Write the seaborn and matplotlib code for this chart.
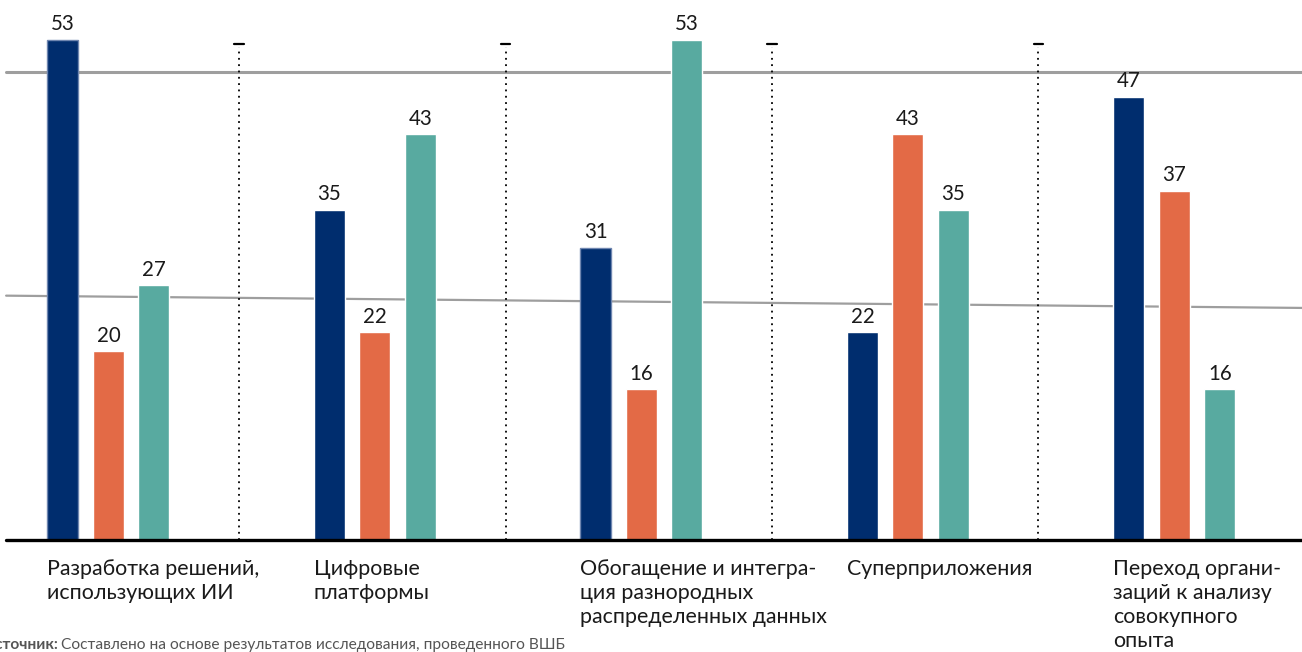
import matplotlib
matplotlib.use("Agg")
import matplotlib.pyplot as plt
import numpy as np
import pandas as pd
import seaborn as sns

# ----- Data -----

categories = [
    "Разработка решений,\nиспользующих ИИ",
    "Цифровые\nплатформы",
    "Обогащение и интегра-\nция разнородных\nраспределенных данных",
    "Суперприложения",
    "Переход органи-\nзаций к анализу\nсовокупного\nопыта",
]
series_names = ["Серия 1", "Серия 2", "Серия 3"]
series_1 = [53, 35, 31, 22, 47]
series_2 = [20, 22, 16, 43, 37]
series_3 = [27, 43, 53, 35, 16]

# decorative grey guide lines (value at left edge, value at right edge)
guide_upper = [49.6, 49.6]
guide_lower = [25.9, 24.6]

source_label = "Источник:"
source_text = "Составлено на основе результатов исследования, проведенного ВШБ"

colours = ["#002D6E", "#E36A46", "#58AAA0"]

# ----- Table -----

df = pd.DataFrame({
    "category": np.repeat(categories, len(series_names)),
    "series": series_names * len(categories),
    "value": np.ravel(np.column_stack([series_1, series_2, series_3])),
})

# ----- Figure -----

sns.set_theme(style="white")
plt.rcParams["font.family"] = ["Lato", "DejaVu Sans"]

fig = plt.figure(figsize=(13.02, 6.52), dpi=100)
ax = fig.add_axes([0, 112 / 652, 1, 540 / 652])

sns.barplot(data=df, x="category", y="value", hue="series", hue_order=series_names,
            order=categories, palette=colours, width=0.512, gap=0.319,
            saturation=1, legend=False, ax=ax, zorder=3)

x_left, x_right = -0.407, 4.479
x_start = -0.384
ax.set_xlim(x_left, x_right)
ax.set_ylim(0, 57.24)
ax.axis("off")

# thin lighter outline seen on two of the dark bars
for bar, val in zip(ax.containers[0], series_1):
    if val in (53, 31):
        bar.set_edgecolor("#6F86B0")
        bar.set_linewidth(1.0)

# -- Value labels --

for cont in ax.containers:
    ax.bar_label(cont, padding=4, fontsize=14.8, color="#1a1a1a")

# -- Guide lines --

ax.plot([x_start, x_right], guide_upper, color="#9e9e9e", lw=2.2, zorder=1)
ax.plot([x_start, x_right], guide_lower, color="#9e9e9e", lw=1.6, zorder=1)

# -- Baseline --

ax.plot([x_start, x_right], [0, 0], color="black", lw=2.4, zorder=4, clip_on=False)

# -- Separators --

for i in range(len(categories) - 1):
    xs = i + 0.49
    ax.plot([xs, xs], [0, 52.3], color="black", lw=1.3, ls=(0, (1, 2.5)), zorder=2)
    ax.plot([xs - 0.017, xs + 0.017], [52.6, 52.6], color="black", lw=1.6, zorder=2)

# -- Category labels --

for i, cat in enumerate(categories):
    ax.text(i - 0.229, -2.0, cat, ha="left", va="top", fontsize=15.4,
            linespacing=1.26, color="#1a1a1a", clip_on=False)

# -- Source --

fig.text(-16 / 1302, 3 / 652, source_label, fontsize=11.2, fontweight="bold",
         color="#555555", ha="left", va="baseline")
fig.text(61 / 1302, 3 / 652, source_text, fontsize=11.2, color="#555555",
         ha="left", va="baseline")

fig.savefig("out.png", dpi=100)
